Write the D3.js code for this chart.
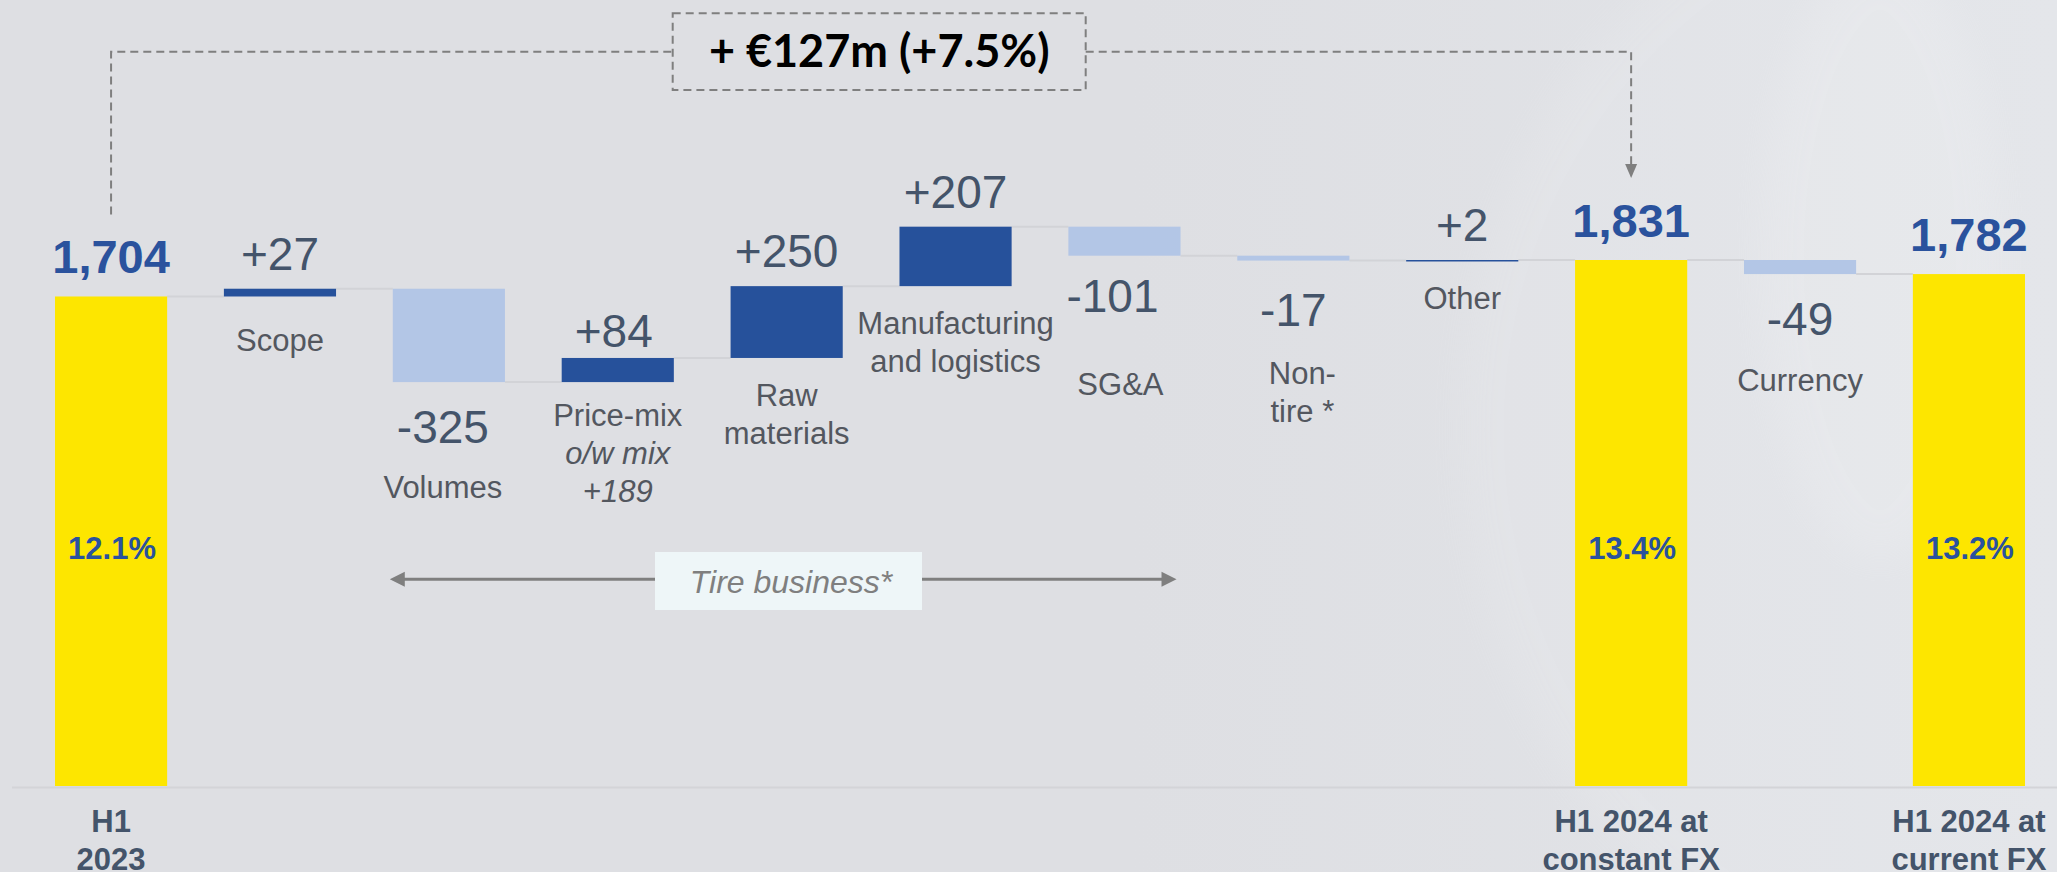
<!DOCTYPE html>
<html lang="en">
<head>
	<meta charset="utf-8"/>
	<title>H1 2024 bridge</title>
	<script src="https://d3js.org/d3.v7.min.js" charset="utf-8"></script>
	<style>
		html, body { margin: 0; padding: 0; background: #dedfe3; }
		svg { display: block; font-family: "Liberation Sans", Arial, sans-serif; }
		.conn { stroke: #d2d3d7; stroke-width: 2; }
		.dash { fill: none; stroke: #7f7f7f; stroke-width: 2; stroke-dasharray: 8,5; }
	</style>
</head>
<body>
<div id="chart"></div>

<script>
	// data
	var categories = ["H1 2023", "Scope", "Volumes", "Price-mix", "Raw materials",
		"Manufacturing and logistics", "SG&A", "Non-tire *", "Other",
		"H1 2024 at constant FX", "Currency", "H1 2024 at current FX"];
	var values = [1704, 27, -325, 84, 250, 207, -101, -17, 2, 1831, -49, 1782];
	var isTotal = [true, false, false, false, false, false, false, false, false, true, false, true];
	var valueLabels = ["1,704", "+27", "-325", "+84", "+250", "+207", "-101", "-17", "+2", "1,831", "-49", "1,782"];
	var marginLabels = ["12.1%", "", "", "", "", "", "", "", "", "13.4%", "", "13.2%"];
	var labelLines = [["H1", "2023"], ["Scope"], ["Volumes"], ["Price-mix", "o/w mix", "+189"],
		["Raw", "materials"], ["Manufacturing", "and logistics"], ["SG&A"], ["Non-", "tire *"],
		["Other"], ["H1 2024 at", "constant FX"], ["Currency"], ["H1 2024 at", "current FX"]];
	var italicLines = ["o/w mix", "+189"];
	var bridgeLabel = "+ \u20ac127m (+7.5%)";
	var tireLabel = "Tire business*";

	// small per-bar nudges of the text boxes (layout only)
	var nudge = {
		2: {dx: -6, lab: 55},
		3: {dx: -4, gap: 11, lab: 44, labDx: 0},
		6: {dx: -12, gap: 56, lab: 83, labDx: -4},
		7: {gap: 65, lab: 58, labDx: 9},
		1: {lab: 55}
	};

	var width = 2057,
		height = 872;

	var svg = d3.select("#chart").append("svg")
		.attr("width", width)
		.attr("height", height);

	// background with the faint tire picture on the right
	var defs = svg.append("defs");
	var grad = defs.append("linearGradient").attr("id", "bg").attr("x1", 0).attr("x2", 1).attr("y1", 0).attr("y2", 0);
	grad.append("stop").attr("offset", "0%").attr("stop-color", "#dedfe3");
	grad.append("stop").attr("offset", "55%").attr("stop-color", "#dedfe3");
	grad.append("stop").attr("offset", "100%").attr("stop-color", "#e2e4e8");
	var blur = defs.append("filter").attr("id", "soft").attr("x", "-20%").attr("y", "-20%").attr("width", "140%").attr("height", "140%");
	blur.append("feGaussianBlur").attr("stdDeviation", 18);

	svg.append("rect").attr("width", width).attr("height", height).attr("fill", "url(#bg)");
	svg.append("ellipse")
		.attr("cx", 1960).attr("cy", 430).attr("rx", 500).attr("ry", 560)
		.attr("fill", "#ffffff").attr("opacity", 0.09)
		.attr("filter", "url(#soft)");
	svg.append("ellipse")
		.attr("cx", 1880).attr("cy", 260).attr("rx", 120).attr("ry", 300)
		.attr("fill", "#ffffff").attr("opacity", 0.12)
		.attr("filter", "url(#soft)");

	// scales
	var x = d3.scaleBand()
		.domain(categories)
		.range([55, 2025])
		.paddingInner(0.336)
		.paddingOuter(0);

	var y = d3.scaleLinear()
		.domain([0, 1831])
		.range([786, 260]);

	var bw = x.bandwidth();

	// running totals for the waterfall
	var run = 0;
	var bars = categories.map(function(c, i) {
		var start, end;
		if (isTotal[i]) { start = 0; end = values[i]; }
		else { start = run; end = run + values[i]; }
		run = end;
		return {name: c, i: i, start: start, end: end, v: values[i], total: isTotal[i]};
	});

	function fillOf(d) {
		if (d.total) return "#fde600";
		return d.v >= 0 ? "#26519b" : "#b3c6e6";
	}

	// baseline
	svg.append("line")
		.attr("x1", 12).attr("x2", width)
		.attr("y1", y(0) + 1.5).attr("y2", y(0) + 1.5)
		.attr("stroke", "#d3d4d8").attr("stroke-width", 2);

	// connectors between bars
	svg.append("g").selectAll("line")
		.data(bars.slice(0, -1))
		.enter().append("line")
		.attr("class", "conn")
		.attr("x1", function(d) { return x(d.name) + bw; })
		.attr("x2", function(d) { return x(categories[d.i + 1]); })
		.attr("y1", function(d) { return y(d.end); })
		.attr("y2", function(d) { return y(d.end); });

	// bars
	svg.append("g").selectAll("rect")
		.data(bars)
		.enter().append("rect")
		.attr("x", function(d) { return x(d.name); })
		.attr("width", bw)
		.attr("y", function(d) { return y(Math.max(d.start, d.end)); })
		.attr("height", function(d) { return Math.max(1.5, Math.abs(y(d.start) - y(d.end))); })
		.attr("fill", fillOf);

	// value labels
	function valueY(d) {
		var n = nudge[d.i] || {};
		var top = y(Math.max(d.start, d.end)), bot = y(Math.min(d.start, d.end));
		if (d.total) return top - 23;
		if (d.v >= 0) return top - (n.gap != null ? n.gap : 19);
		return bot + (n.gap != null ? n.gap : 61);
	}

	svg.append("g").selectAll("text")
		.data(bars)
		.enter().append("text")
		.attr("x", function(d) { return x(d.name) + bw / 2 + ((nudge[d.i] || {}).dx || 0); })
		.attr("y", valueY)
		.attr("text-anchor", "middle")
		.attr("font-size", function(d) { return d.total ? 47 : 46; })
		.attr("font-weight", function(d) { return d.total ? "bold" : "normal"; })
		.attr("fill", function(d) { return d.total ? "#2a529d" : "#44546a"; })
		.text(function(d) { return valueLabels[d.i]; });

	// margin % inside the yellow bars
	svg.append("g").selectAll("text")
		.data(bars.filter(function(d) { return d.total; }))
		.enter().append("text")
		.attr("x", function(d) { return x(d.name) + bw / 2 + 1; })
		.attr("y", y(0) - 227)
		.attr("text-anchor", "middle")
		.attr("font-size", 31)
		.attr("font-weight", "bold")
		.attr("fill", "#2a529d")
		.text(function(d) { return marginLabels[d.i]; });

	// category labels
	function labelY(d) {
		var n = nudge[d.i] || {};
		if (d.total) return y(0) + 46;
		if (d.v >= 0) return y(Math.min(d.start, d.end)) + (n.lab != null ? n.lab : 48);
		return valueY(d) + (n.lab != null ? n.lab : 56);
	}

	var labs = svg.append("g").selectAll("text")
		.data(bars)
		.enter().append("text")
		.attr("text-anchor", "middle")
		.attr("font-size", 31)
		.attr("font-weight", function(d) { return d.total ? "bold" : "normal"; })
		.attr("fill", function(d) { return d.total ? "#44546a" : "#53575f"; })
		.attr("transform", function(d) {
			var n = nudge[d.i] || {};
			var dx = n.labDx != null ? n.labDx : (n.dx || 0);
			return "translate(" + (x(d.name) + bw / 2 + dx) + "," + labelY(d) + ")";
		});

	labs.selectAll("tspan")
		.data(function(d) { return labelLines[d.i]; })
		.enter().append("tspan")
		.attr("x", 0)
		.attr("y", function(t, j) { return j * 38; })
		.attr("font-style", function(t) { return italicLines.indexOf(t) >= 0 ? "italic" : "normal"; })
		.text(function(t) { return t; });

	// "+ €127m" bridge annotation
	var xa = x(categories[0]) + bw / 2,
		xb = x(categories[9]) + bw / 2,
		yTop = 51.7,
		boxL = 672.7, boxR = 1085.7;

	svg.append("path")
		.attr("class", "dash")
		.attr("d", "M" + xa + "," + (y(values[0]) - 82) + "V" + yTop + "H" + boxL);
	svg.append("path")
		.attr("class", "dash")
		.attr("d", "M" + boxR + "," + yTop + "H" + xb + "V" + (y(values[9]) - 96));
	svg.append("path")
		.attr("fill", "#7f7f7f")
		.attr("d", "M" + (xb - 6) + "," + (y(values[9]) - 96) + "L" + (xb + 6) + "," + (y(values[9]) - 96) +
			"L" + xb + "," + (y(values[9]) - 82) + "Z");
	svg.append("rect")
		.attr("class", "dash")
		.attr("x", boxL).attr("y", 13.3)
		.attr("width", boxR - boxL).attr("height", 76.7);
	svg.append("text")
		.attr("x", (boxL + boxR) / 2)
		.attr("y", 67)
		.attr("text-anchor", "middle")
		.attr("font-family", "Lato, 'Open Sans', sans-serif")
		.attr("font-weight", "bold")
		.attr("font-size", 45)
		.attr("fill", "#000")
		.text(bridgeLabel);

	// tire business arrow
	var ta = x("Volumes") - 3,
		tb = x("SG&A") + bw - 4,
		ty = 579.3;
	svg.append("line")
		.attr("x1", ta + 12).attr("x2", tb - 12)
		.attr("y1", ty).attr("y2", ty)
		.attr("stroke", "#7f7f7f").attr("stroke-width", 3);
	svg.append("path")
		.attr("fill", "#7f7f7f")
		.attr("d", "M" + ta + "," + ty + "L" + (ta + 15) + "," + (ty - 7.5) + "L" + (ta + 15) + "," + (ty + 7.5) + "Z" +
			"M" + tb + "," + ty + "L" + (tb - 15) + "," + (ty - 7.5) + "L" + (tb - 15) + "," + (ty + 7.5) + "Z");
	svg.append("rect")
		.attr("x", 655).attr("y", 552)
		.attr("width", 267).attr("height", 58)
		.attr("fill", "#eef6f8");
	svg.append("text")
		.attr("x", 791)
		.attr("y", 593)
		.attr("text-anchor", "middle")
		.attr("font-size", 32)
		.attr("font-style", "italic")
		.attr("fill", "#7f7f7f")
		.text(tireLabel);

</script>
</body>
</html>
